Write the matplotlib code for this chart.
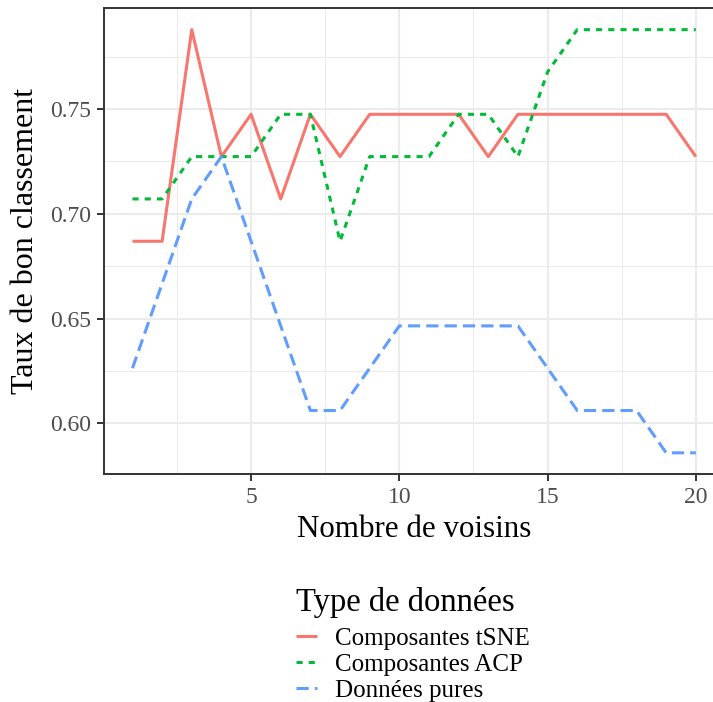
import matplotlib
matplotlib.use("Agg")
import matplotlib.pyplot as plt
from matplotlib.ticker import MultipleLocator

plt.rcParams['font.family'] = ['Liberation Serif', 'DejaVu Serif']

voisins = list(range(1, 21))
tsne = [0.6869, 0.6869, 0.7879, 0.7273, 0.7475, 0.7071, 0.7475, 0.7273, 0.7475, 0.7475,
        0.7475, 0.7475, 0.7273, 0.7475, 0.7475, 0.7475, 0.7475, 0.7475, 0.7475, 0.7273]
acp = [0.7071, 0.7071, 0.7273, 0.7273, 0.7273, 0.7475, 0.7475, 0.6869, 0.7273, 0.7273,
       0.7273, 0.7475, 0.7475, 0.7273, 0.7677, 0.7879, 0.7879, 0.7879, 0.7879, 0.7879]
pures = [0.6263, 0.6667, 0.7071, 0.7273, 0.6869, 0.6465, 0.6061, 0.6061, 0.6263, 0.6465,
         0.6465, 0.6465, 0.6465, 0.6465, 0.6263, 0.6061, 0.6061, 0.6061, 0.5859, 0.5859]
series_labels = ["Composantes tSNE", "Composantes ACP", "Données pures"]
colors = ["#F8766D", "#00BA38", "#619CFF"]
yticks = [0.60, 0.65, 0.70, 0.75]
xticks = [5, 10, 15, 20]

W, H = 713, 702
fig = plt.figure(figsize=(W / 100, H / 100), dpi=100)
left, right, top, bottom = 104.3, 724.0, 8.5, 474.0
ax = fig.add_axes([left / W, (H - bottom) / H, (right - left) / W, (bottom - top) / H])

lw = 2.2
styles = ['-', (0, (2, 2)), (0, (4, 2))]
handles = []
for vals, c, ls, lab in zip([tsne, acp, pures], colors, styles, series_labels):
    ln, = ax.plot(voisins, vals, color=c, lw=lw, linestyle=ls, label=lab,
                  solid_capstyle='butt', dash_capstyle='butt',
                  solid_joinstyle='round', dash_joinstyle='round', zorder=3)
    handles.append(ln)

ax.set_xlim(0.05, 20.95)
ax.set_ylim(0.5758, 0.7980)
ax.set_xticks(xticks)
ax.set_yticks(yticks)
ax.set_yticklabels([f"{v:.2f}" for v in yticks])
ax.xaxis.set_minor_locator(MultipleLocator(2.5))
ax.yaxis.set_minor_locator(MultipleLocator(0.025))
ax.grid(which='major', color='#EBEBEB', lw=1.5, zorder=0)
ax.grid(which='minor', color='#EBEBEB', lw=0.75, zorder=0)
ax.set_axisbelow(True)
for s in ax.spines.values():
    s.set_color('#333333')
    s.set_linewidth(1.4)
ax.tick_params(which='major', length=5, width=1.4, color='#333333',
               labelsize=17, labelcolor='#4D4D4D', pad=4.5)
ax.tick_params(which='minor', length=0)

ax.set_xlabel("Nombre de voisins", fontsize=22.3, color='black', labelpad=5)
ax.set_ylabel("Taux de bon classement", fontsize=23, color='black', labelpad=7)

leg = fig.legend(handles=handles, labels=series_labels, title="Type de données",
                 loc='upper left', bbox_to_anchor=(296 / W, 1 - 587 / H),
                 frameon=False, fontsize=18, title_fontsize=23.5,
                 handlelength=0.84, handletextpad=0.72, labelspacing=0.15,
                 borderpad=0, borderaxespad=0)
leg._legend_box.align = "left"
leg._legend_box.sep = 6.5

fig.savefig("out.png", dpi=100)
